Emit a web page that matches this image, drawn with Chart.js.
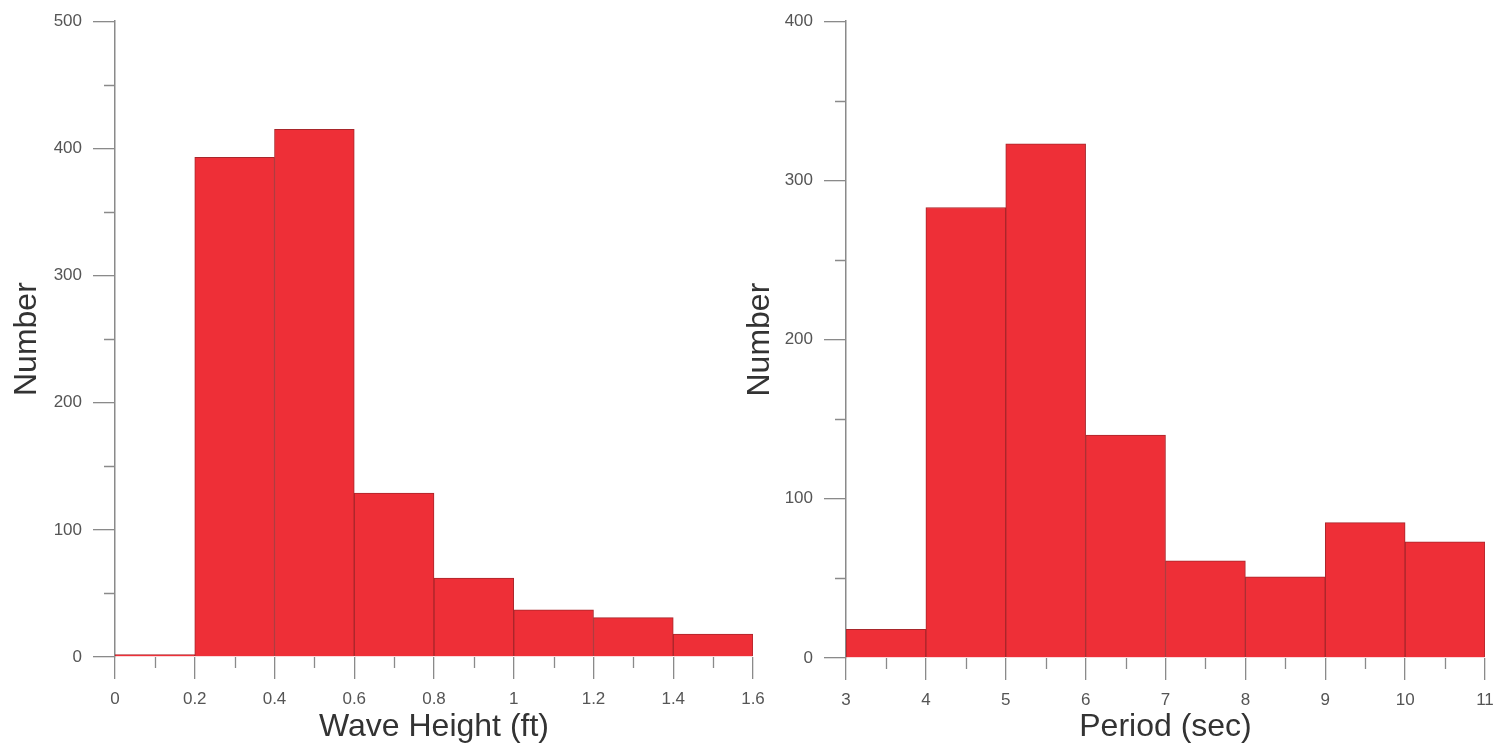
<!DOCTYPE html>
<html>
<head>
<meta charset="utf-8">
<script src="https://cdn.jsdelivr.net/npm/chart.js@4/dist/chart.umd.min.js"></script>
<style>
  body { margin: 0; background: #fff; }
  canvas { position: absolute; top: 0; }
  #alturaChart { left: 0; }
  #periodoChart { left: 730px; }
</style>
</head>
<body>
<canvas id="alturaChart" width="780" height="749"></canvas>
<canvas id="periodoChart" width="779" height="749"></canvas>
<script>
// Datos
const alturaBordes = [0, 0.2, 0.4, 0.6, 0.8, 1.0, 1.2, 1.4, 1.6];
const alturaCuentas = [2, 393, 415, 129, 62, 37, 31, 18];
const alturaTicksY = [0, 100, 200, 300, 400, 500];

const periodoBordes = [3, 4, 5, 6, 7, 8, 9, 10, 11];
const periodoCuentas = [18, 283, 323, 140, 61, 51, 85, 73];
const periodoTicksY = [0, 100, 200, 300, 400];

const gris = '#8a8a8a';
const rojo = '#ee2f37';

// marcas menores a mitad de camino entre las principales
const marcasMenores = {
    id: 'marcasMenores',
    afterDraw(chart) {
        const ctx = chart.ctx;
        const x = chart.scales.x, y = chart.scales.y;
        ctx.save();
        ctx.strokeStyle = gris;
        ctx.lineWidth = 1.3;
        ctx.beginPath();
        for (let i = 0; i < x.ticks.length - 1; i++) {
            const px = Math.round(x.getPixelForValue((x.ticks[i].value + x.ticks[i + 1].value) / 2)) + 0.5;
            ctx.moveTo(px, y.bottom);
            ctx.lineTo(px, y.bottom + 11);
        }
        for (let i = 0; i < y.ticks.length - 1; i++) {
            const py = Math.round(y.getPixelForValue((y.ticks[i].value + y.ticks[i + 1].value) / 2)) + 0.5;
            ctx.moveTo(x.left - 11, py);
            ctx.lineTo(x.left, py);
        }
        ctx.stroke();
        ctx.restore();
    }
};

function crearHistograma(id, bordes, cuentas, ticksY, tituloX, cfg) {
    const datos = cuentas.map((c, i) => ({ x: (bordes[i] + bordes[i + 1]) / 2, y: c }));
    new Chart(document.getElementById(id), {
        type: 'bar',
        data: {
            datasets: [{
                data: datos,
                backgroundColor: rojo,
                borderColor: '#a8262b',
                borderWidth: 1,
                barPercentage: 1,
                categoryPercentage: 1,
            }],
        },
        options: {
            responsive: false,
            animation: false,
            plugins: { legend: { display: false }, tooltip: { enabled: false } },
            layout: { padding: { top: cfg.top, right: cfg.right, left: 0, bottom: 0 } },
            scales: {
                x: {
                    type: 'linear',
                    offset: false,
                    min: bordes[0],
                    max: bordes[bordes.length - 1],
                    afterBuildTicks: (s) => { s.ticks = bordes.map(v => ({ value: v })); },
                    afterFit: (s) => { s.height = 749 - cfg.bottom; },
                    border: { display: false },
                    grid: { offset: false, drawOnChartArea: false, tickLength: 22, color: gris, lineWidth: 1.3 },
                    ticks: {
                        padding: 10,
                        color: '#555',
                        font: { family: 'Liberation Sans', size: 17 },
                        maxRotation: 0,
                        callback: (v) => String(Math.round(v * 10) / 10),
                    },
                    title: {
                        display: true,
                        text: tituloX,
                        color: '#333',
                        font: { family: 'Liberation Sans', size: 32 },
                        padding: { top: 0, bottom: 3 },
                    },
                },
                y: {
                    min: ticksY[0],
                    max: ticksY[ticksY.length - 1],
                    afterBuildTicks: (s) => { s.ticks = ticksY.map(v => ({ value: v })); },
                    afterFit: (s) => { s.width = cfg.axisX; },
                    border: { color: gris, width: 1.5 },
                    grid: { drawOnChartArea: false, tickLength: 22, color: gris, lineWidth: 1.3 },
                    ticks: {
                        padding: 11,
                        color: '#555',
                        font: { family: 'Liberation Sans', size: 17 },
                    },
                    title: {
                        display: true,
                        text: 'Number',
                        color: '#333',
                        font: { family: 'Liberation Sans', size: 32 },
                        padding: { top: cfg.titlePad, bottom: 0 },
                    },
                },
            },
        },
        plugins: [marcasMenores],
    });
}

crearHistograma('alturaChart', alturaBordes, alturaCuentas, alturaTicksY, 'Wave Height (ft)',
    { top: 19, right: 27, bottom: 657, axisX: 115, titlePad: 8 });
crearHistograma('periodoChart', periodoBordes, periodoCuentas, periodoTicksY, 'Period (sec)',
    { top: 18, right: 24, bottom: 658, axisX: 116, titlePad: 11 });
</script>
</body>
</html>
